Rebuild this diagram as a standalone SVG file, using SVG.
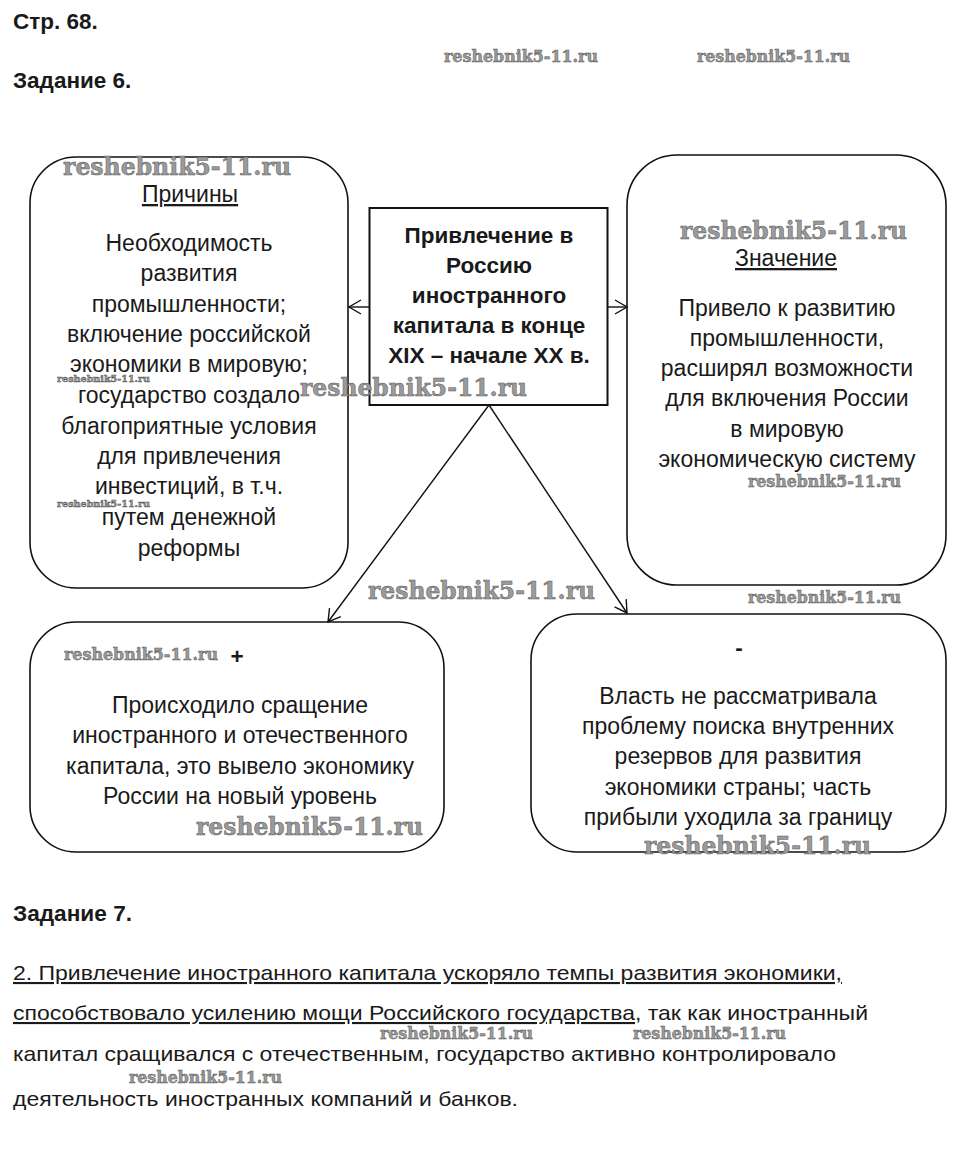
<svg xmlns="http://www.w3.org/2000/svg" width="957" height="1166" viewBox="0 0 957 1166">
<style>
.t{font-family:"Liberation Sans",Arial,sans-serif;font-size:23px;fill:#1a1a1a;text-anchor:middle}
.b{font-family:"Liberation Sans",Arial,sans-serif;font-size:22.5px;font-weight:bold;fill:#1a1a1a;text-anchor:middle}
.h{font-family:"Liberation Sans",Arial,sans-serif;font-size:22.5px;font-weight:bold;fill:#1a1a1a}
.p{font-family:"Liberation Sans",Arial,sans-serif;font-size:21px;fill:#1a1a1a}
.u{text-decoration:underline}
.box{fill:#fff;stroke:#111;stroke-width:1.6}
.con{stroke:#111;stroke-width:1.4;fill:none}
.wm{font-family:"DejaVu Serif",serif;font-weight:bold;fill:#9a9a9a;stroke:#555;stroke-width:0.5}
</style>
<defs>
<marker id="ah" markerUnits="userSpaceOnUse" markerWidth="16" markerHeight="18" refX="13" refY="8" orient="auto">
<path d="M1,1 L13,8 L1,15" fill="none" stroke="#111" stroke-width="1.4"/>
</marker>
</defs>
<rect width="957" height="1166" fill="#fff"/>

<text class="h" x="13" y="29">Стр. 68.</text>
<text class="h" x="13" y="88">Задание 6.</text>

<g id="reasons">
<rect class="box" x="30" y="157" width="318" height="431" rx="46"/>
<text class="t u" x="190" y="202">Причины</text>
<text class="t" x="189" y="251">Необходимость</text>
<text class="t" x="189" y="281">развития</text>
<text class="t" x="189" y="312">промышленности;</text>
<text class="t" x="189" y="342">включение российской</text>
<text class="t" x="189" y="372">экономики в мировую;</text>
<text class="t" x="189" y="403">государство создало</text>
<text class="t" x="189" y="434">благоприятные условия</text>
<text class="t" x="189" y="464">для привлечения</text>
<text class="t" x="189" y="494">инвестиций, в т.ч.</text>
<text class="t" x="189" y="525">путем денежной</text>
<text class="t" x="189" y="556">реформы</text>
</g>

<g id="center">
<rect x="369.5" y="208" width="238" height="197" fill="#fff" stroke="#111" stroke-width="2"/>
<text class="b" x="489" y="243">Привлечение в</text>
<text class="b" x="489" y="273">Россию</text>
<text class="b" x="489" y="303">иностранного</text>
<text class="b" x="489" y="333">капитала в конце</text>
<text class="b" x="489" y="363">XIX – начале XX в.</text>
</g>

<g id="meaning">
<rect class="box" x="627" y="155" width="319" height="430" rx="50"/>
<text class="t u" x="786" y="266">Значение</text>
<text class="t" x="787" y="316">Привело к развитию</text>
<text class="t" x="787" y="346">промышленности,</text>
<text class="t" x="787" y="376">расширял возможности</text>
<text class="t" x="787" y="406">для включения России</text>
<text class="t" x="787" y="437">в мировую</text>
<text class="t" x="787" y="467">экономическую систему</text>
</g>

<g id="plus">
<rect class="box" x="30" y="622" width="414" height="230" rx="46"/>
<text class="b" x="237" y="664">+</text>
<text class="t" x="240" y="713">Происходило сращение</text>
<text class="t" x="240" y="743">иностранного и отечественного</text>
<text class="t" x="240" y="774">капитала, это вывело экономику</text>
<text class="t" x="240" y="804">России на новый уровень</text>
</g>

<g id="minus">
<rect class="box" x="531" y="614" width="415" height="238" rx="46"/>
<text class="b" x="739" y="655">-</text>
<text class="t" x="738" y="704">Власть не рассматривала</text>
<text class="t" x="738" y="734">проблему поиска внутренних</text>
<text class="t" x="738" y="764">резервов для развития</text>
<text class="t" x="738" y="795">экономики страны; часть</text>
<text class="t" x="738" y="825">прибыли уходила за границу</text>
</g>

<g id="connectors">
<line class="con" x1="369" y1="307" x2="349" y2="307" marker-end="url(#ah)"/>
<line class="con" x1="608" y1="307" x2="627" y2="307" marker-end="url(#ah)"/>
<line class="con" x1="489" y1="405" x2="328" y2="622" marker-end="url(#ah)"/>
<line class="con" x1="489" y1="405" x2="627" y2="613" marker-end="url(#ah)"/>
</g>

<text class="h" x="13" y="921" textLength="119" lengthAdjust="spacingAndGlyphs">Задание 7.</text>
<text class="p u" x="13" y="980" textLength="829" lengthAdjust="spacingAndGlyphs">2. Привлечение иностранного капитала ускоряло темпы развития экономики,</text>
<text class="p u" x="13" y="1020" textLength="622" lengthAdjust="spacingAndGlyphs">способствовало усилению мощи Российского государства</text>
<text class="p" x="635" y="1020" textLength="233" lengthAdjust="spacingAndGlyphs">, так как иностранный</text>
<text class="p" x="13" y="1061" textLength="823" lengthAdjust="spacingAndGlyphs">капитал сращивался с отечественным, государство активно контролировало</text>
<text class="p" x="13" y="1106" textLength="505" lengthAdjust="spacingAndGlyphs">деятельность иностранных компаний и банков.</text>

<g id="watermarks">
<text class="wm" x="444" y="62" font-size="17" textLength="154" lengthAdjust="spacingAndGlyphs">reshebnik5-11.ru</text>
<text class="wm" x="697" y="62" font-size="17" textLength="153" lengthAdjust="spacingAndGlyphs">reshebnik5-11.ru</text>
<text class="wm" x="63" y="175" font-size="25" textLength="228" lengthAdjust="spacingAndGlyphs">reshebnik5-11.ru</text>
<text class="wm" x="680" y="239" font-size="25" textLength="227" lengthAdjust="spacingAndGlyphs">reshebnik5-11.ru</text>
<text class="wm" x="57" y="382" font-size="10" textLength="93" lengthAdjust="spacingAndGlyphs" stroke-width="0.2">reshebnik5-11.ru</text>
<text class="wm" x="300" y="396" font-size="25" textLength="227" lengthAdjust="spacingAndGlyphs">reshebnik5-11.ru</text>
<text class="wm" x="748" y="487" font-size="17" textLength="153" lengthAdjust="spacingAndGlyphs">reshebnik5-11.ru</text>
<text class="wm" x="57" y="507" font-size="10" textLength="93" lengthAdjust="spacingAndGlyphs" stroke-width="0.2">reshebnik5-11.ru</text>
<text class="wm" x="368" y="599" font-size="25" textLength="227" lengthAdjust="spacingAndGlyphs">reshebnik5-11.ru</text>
<text class="wm" x="748" y="603" font-size="17" textLength="153" lengthAdjust="spacingAndGlyphs">reshebnik5-11.ru</text>
<text class="wm" x="64" y="660" font-size="17" textLength="154" lengthAdjust="spacingAndGlyphs">reshebnik5-11.ru</text>
<text class="wm" x="196" y="835" font-size="25" textLength="227" lengthAdjust="spacingAndGlyphs">reshebnik5-11.ru</text>
<text class="wm" x="644" y="854" font-size="25" textLength="227" lengthAdjust="spacingAndGlyphs">reshebnik5-11.ru</text>
<text class="wm" x="380" y="1039" font-size="17" textLength="153" lengthAdjust="spacingAndGlyphs">reshebnik5-11.ru</text>
<text class="wm" x="633" y="1039" font-size="17" textLength="153" lengthAdjust="spacingAndGlyphs">reshebnik5-11.ru</text>
<text class="wm" x="129" y="1083" font-size="17" textLength="153" lengthAdjust="spacingAndGlyphs">reshebnik5-11.ru</text>
</g>
</svg>
